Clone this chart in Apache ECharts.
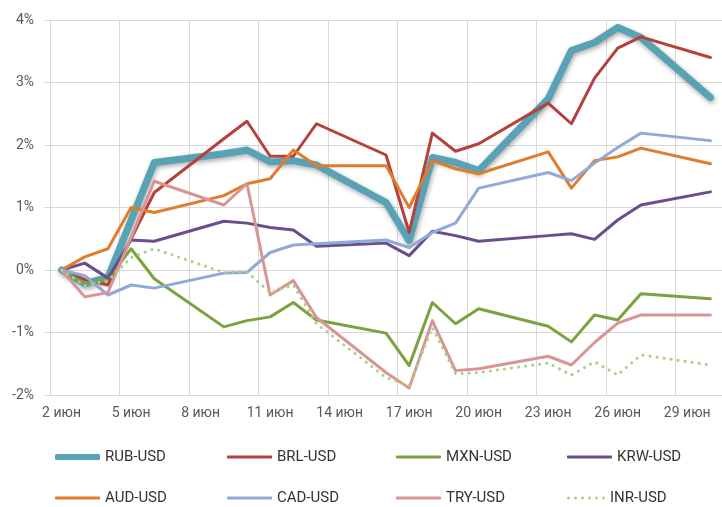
<!DOCTYPE html>
<html>
<head>
<meta charset="utf-8">
<script src="https://cdn.jsdelivr.net/npm/echarts@6/dist/echarts.min.js"></script>
<style>
	html, body { margin: 0; padding: 0; background: #ffffff; }
	#chartmain { width: 722px; height: 507px; }
</style>
</head>
<body>
<div id="chartmain"></div>
<script>
// calendar days on the axis (weekends included, no data on them)
const calendar = ['2 июн', '3 июн', '4 июн', '5 июн', '6 июн', '7 июн', '8 июн', '9 июн', '10 июн',
	'11 июн', '12 июн', '13 июн', '14 июн', '15 июн', '16 июн', '17 июн', '18 июн', '19 июн',
	'20 июн', '21 июн', '22 июн', '23 июн', '24 июн', '25 июн', '26 июн', '27 июн', '28 июн',
	'29 июн', '30 июн'];
// trading days
const days = ['2 июн', '3 июн', '4 июн', '5 июн', '6 июн', '9 июн', '10 июн', '11 июн', '12 июн',
	'13 июн', '16 июн', '17 июн', '18 июн', '19 июн', '20 июн', '23 июн', '24 июн', '25 июн',
	'26 июн', '27 июн', '30 июн'];
const yTicks = [-2, -1, 0, 1, 2, 3, 4];

// изменение к 2 июня, %
const rub = [0, -0.22, -0.12, 0.80, 1.72, 1.86, 1.92, 1.73, 1.75, 1.68, 1.08, 0.47, 1.80, 1.72, 1.59, 2.74, 3.51, 3.64, 3.88, 3.72, 2.76];
const brl = [0, -0.15, -0.24, 0.50, 1.24, 2.10, 2.38, 1.82, 1.82, 2.34, 1.84, 0.60, 2.19, 1.90, 2.02, 2.67, 2.34, 3.07, 3.55, 3.73, 3.40];
const mxn = [0, -0.22, -0.14, 0.34, -0.14, -0.91, -0.81, -0.75, -0.52, -0.80, -1.01, -1.53, -0.52, -0.86, -0.62, -0.90, -1.15, -0.72, -0.80, -0.38, -0.46];
const krw = [0, 0.11, -0.13, 0.48, 0.46, 0.78, 0.75, 0.68, 0.64, 0.38, 0.43, 0.23, 0.62, 0.55, 0.46, 0.55, 0.58, 0.49, 0.80, 1.04, 1.25];
const aud = [0, 0.21, 0.34, 1.00, 0.92, 1.19, 1.38, 1.46, 1.92, 1.67, 1.67, 1.00, 1.75, 1.62, 1.54, 1.89, 1.31, 1.75, 1.81, 1.95, 1.70];
const cad = [0, -0.09, -0.40, -0.24, -0.29, -0.05, -0.04, 0.28, 0.40, 0.42, 0.48, 0.36, 0.60, 0.75, 1.31, 1.56, 1.43, 1.71, 1.96, 2.19, 2.07];
const tryUsd = [0, -0.43, -0.36, 0.52, 1.42, 1.04, 1.38, -0.40, -0.17, -0.76, -1.64, -1.89, -0.81, -1.61, -1.58, -1.38, -1.52, -1.16, -0.85, -0.72, -0.72];
const inr = [0, -0.25, -0.17, 0.20, 0.34, -0.04, -0.03, -0.36, -0.24, -0.86, -1.72, -1.85, -0.92, -1.66, -1.64, -1.49, -1.68, -1.47, -1.68, -1.36, -1.52];

const names = ['RUB-USD', 'BRL-USD', 'MXN-USD', 'KRW-USD', 'AUD-USD', 'CAD-USD', 'TRY-USD', 'INR-USD'];
const colors = ['#58a2b6', '#b5403c', '#7aa33f', '#6a4e8c', '#e07c2c', '#8faad8', '#d99594', '#a9cf8b'];

const gridColor = '#d9d9d9';
const every3 = function (index) { return index % 3 === 0; };

function pairs (values) {
	return days.map((d, i) => [d, values[i]]);
}

function lineSeries (name, values, color, width, extra) {
	return Object.assign({
		name: name,
		type: 'line',
		data: pairs(values),
		symbol: 'none',
		showSymbol: false,
		lineStyle: { color: color, width: width, join: 'round', cap: 'round' },
		itemStyle: { color: color }
	}, extra || {});
}

// dotted legend icon: 6 round dots
const dotsIcon = 'path://' + [0, 1, 2, 3, 4, 5].map(i => {
	const x = i * 7;
	return 'M' + x + ',1.5 a1.5,1.5 0 1,0 3,0 a1.5,1.5 0 1,0 -3,0 Z';
}).join(' ');

// legend: one component per item, 4 columns x 2 rows
const legendCols = [55, 227, 396, 567];
const legendRows = [457, 498];
const legends = names.map((name, k) => {
	const h = k === 0 ? 6 : 3;
	return {
		left: legendCols[k % 4],
		top: legendRows[Math.floor(k / 4)] - 9,
		padding: 0,
		itemWidth: k === 7 ? 38 : 45,
		itemHeight: h,
		textStyle: { fontFamily: 'Roboto', fontSize: 15, color: '#333333', lineHeight: 18 },
		data: [{
			name: name,
			icon: k === 7 ? dotsIcon : 'roundRect',
			itemStyle: { color: colors[k], borderWidth: 0 }
		}]
	};
});

let chart = echarts.init(document.getElementById('chartmain'), null, { renderer: 'canvas' });
let option = {
	animation: false,
	backgroundColor: '#ffffff',
	legend: legends,
	grid: { left: 50, right: -2.5, top: 20, bottom: 112, containLabel: false },
	xAxis: {
		type: 'category',
		data: calendar,
		boundaryGap: true,
		axisLine: { show: true, lineStyle: { color: gridColor, width: 1 } },
		axisTick: { show: false, interval: every3 },
		splitLine: { show: true, interval: every3, lineStyle: { color: gridColor, width: 1 } },
		axisLabel: {
			interval: every3,
			margin: 11,
			fontFamily: 'Roboto',
			fontSize: 14,
			color: '#595959'
		}
	},
	yAxis: {
		type: 'value',
		min: yTicks[0],
		max: yTicks[yTicks.length - 1],
		interval: 1,
		axisLine: { show: true, lineStyle: { color: gridColor, width: 1 } },
		axisTick: { show: true, length: 6, lineStyle: { color: gridColor } },
		splitLine: { show: true, lineStyle: { color: gridColor, width: 1 } },
		axisLabel: {
			margin: 16,
			fontFamily: 'Roboto',
			fontSize: 14,
			color: '#595959',
			formatter: v => v + '%'
		}
	},
	series: [
		lineSeries(names[0], rub, colors[0], 7, {
			lineStyle: {
				color: colors[0], width: 7, join: 'round', cap: 'round',
				shadowColor: 'rgba(0,0,0,0.35)', shadowBlur: 5, shadowOffsetX: 1, shadowOffsetY: 2
			}
		}),
		lineSeries(names[1], brl, colors[1], 3),
		lineSeries(names[2], mxn, colors[2], 3),
		lineSeries(names[3], krw, colors[3], 3),
		lineSeries(names[4], aud, colors[4], 3),
		lineSeries(names[5], cad, colors[5], 3),
		lineSeries(names[6], tryUsd, colors[6], 3),
		lineSeries(names[7], inr, colors[7], 3, {
			lineStyle: { color: colors[7], width: 3, type: [0.1, 7], cap: 'round', join: 'round' }
		})
	]
};
chart.setOption(option);
</script>
</body>
</html>
